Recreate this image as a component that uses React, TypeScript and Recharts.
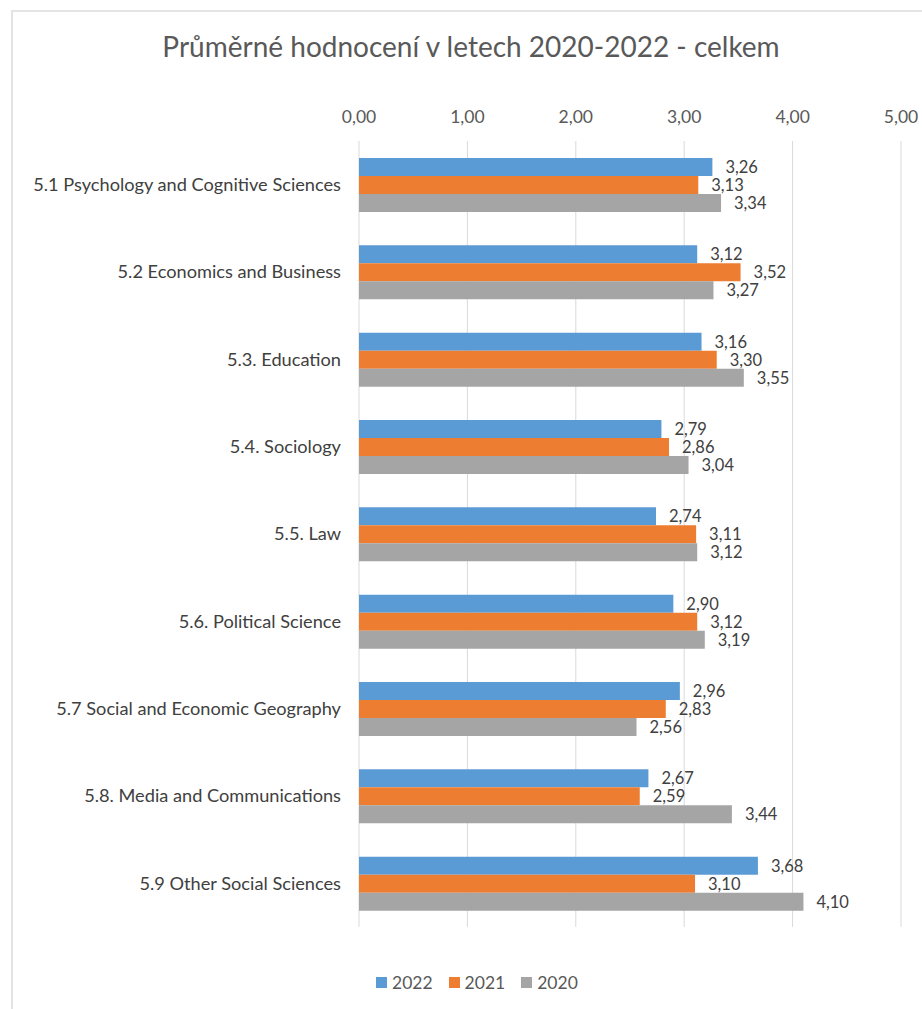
import React from 'react';
import { BarChart, Bar, XAxis, YAxis, CartesianGrid, LabelList } from 'recharts';

const CATEGORIES = [
  '5.1 Psychology and Cognitive Sciences',
  '5.2 Economics and Business',
  '5.3. Education',
  '5.4. Sociology',
  '5.5. Law',
  '5.6. Political Science',
  '5.7 Social and Economic Geography',
  '5.8. Media and Communications',
  '5.9 Other Social Sciences',
];
const Y2022 = [3.26, 3.12, 3.16, 2.79, 2.74, 2.9, 2.96, 2.67, 3.68];
const Y2021 = [3.13, 3.52, 3.3, 2.86, 3.11, 3.12, 2.83, 2.59, 3.1];
const Y2020 = [3.34, 3.27, 3.55, 3.04, 3.12, 3.19, 2.56, 3.44, 4.1];
const X_TICKS = [0, 1, 2, 3, 4, 5];

const SERIES = [
  { key: 'y2022', name: '2022', color: '#5b9bd5' },
  { key: 'y2021', name: '2021', color: '#ed7d31' },
  { key: 'y2020', name: '2020', color: '#a5a5a5' },
];

const data = CATEGORIES.map((name, i) => ({
  name,
  y2022: Y2022[i],
  y2021: Y2021[i],
  y2020: Y2020[i],
}));

const fmt = (v: number) => v.toFixed(2).replace('.', ',');
const FONT = 'Lato, "Liberation Sans", sans-serif';
const labelStyle = { fontSize: 16.5, fill: '#404040', fontFamily: FONT };

const App: React.FC = () => {
  return (
    <div style={{ position: 'absolute', left: 0, top: 0, width: 922, height: 1009, background: '#fff', fontFamily: FONT }}>
      <div style={{ position: 'absolute', left: 11, top: 10, right: 0, bottom: 0, borderLeft: '2px solid #e4e4e4', borderTop: '2px solid #e4e4e4' }} />
      <div style={{ position: 'absolute', left: 0, width: 942, top: 29, textAlign: 'center', fontSize: 28, color: '#595959' }}>
        Průměrné hodnocení v letech 2020-2022 - celkem
      </div>
      <div style={{ position: 'absolute', left: 0, top: 0 }}>
        <BarChart
          width={922}
          height={1009}
          data={data}
          layout="vertical"
          margin={{ top: 111, right: 21, bottom: 82, left: 0 }}
          barGap={0}
          barSize={18}
        >
          <CartesianGrid horizontal={false} stroke="#d9d9d9" />
          <XAxis
            type="number"
            orientation="top"
            domain={[0, 5]}
            ticks={X_TICKS}
            height={30}
            axisLine={false}
            tickLine={false}
            tickMargin={12}
            tickFormatter={fmt}
            tick={{ fontSize: 17.5, fill: '#595959', fontFamily: FONT }}
          />
          <YAxis
            type="category"
            dataKey="name"
            width={359}
            axisLine={false}
            tickLine={false}
            tickMargin={12}
            tick={{ fontSize: 18.2, fill: '#404040', fontFamily: FONT }}
          />
          {SERIES.map((s) => (
            <Bar key={s.key} dataKey={s.key} name={s.name} fill={s.color} isAnimationActive={false}>
              <LabelList dataKey={s.key} position="right" offset={13} formatter={fmt} style={labelStyle} />
            </Bar>
          ))}
        </BarChart>
      </div>
      <div style={{ position: 'absolute', left: 376, top: 971, height: 22, display: 'flex', alignItems: 'center', fontSize: 17.5, color: '#595959' }}>
        {SERIES.map((s) => (
          <div key={s.key} style={{ display: 'flex', alignItems: 'center', marginRight: 16 }}>
            <span style={{ width: 11, height: 11, background: s.color, display: 'inline-block', marginRight: 5 }} />
            <span>{s.name}</span>
          </div>
        ))}
      </div>
    </div>
  );
};

export default App;
